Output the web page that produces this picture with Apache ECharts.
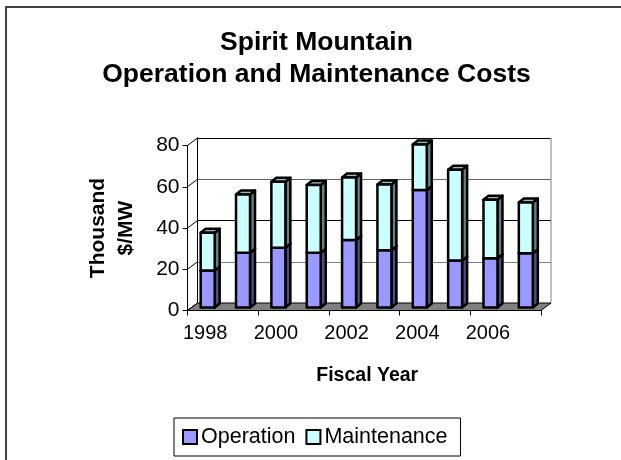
<!DOCTYPE html>
<html>
<head>
<meta charset="utf-8">
<style>html,body{margin:0;padding:0;background:#fff}#chart{width:621px;height:460px}</style>
<script src="https://cdn.jsdelivr.net/npm/echarts@6/dist/echarts.min.js"></script>
</head>
<body>
<div id="chart"></div>
<script>
var years = ['1998','1999','2000','2001','2002','2003','2004','2005','2006','2007'];
var operation = [18, 26.5, 29, 26.5, 32.7, 27.8, 57, 22.8, 23.9, 26.3];
var maintenance = [18.2, 28.3, 32, 32.9, 30.3, 31.8, 22, 44, 28.3, 24.6];
var yTicks = [0, 20, 40, 60, 80];

var font = '"Liberation Sans", Arial, sans-serif';
var depthX = 10, depthY = 7.5;   // 3d depth of the floor
var barW = 14, barDX = 5, barDY = 4;

// one 3d bar segment: front, side and top face
function barItem(colors) {
  return function (params, api) {
    var i = api.value(0);
    var p0 = api.coord([i, api.value(1)]);
    var p1 = api.coord([i, api.value(2)]);
    var x = p0[0] + 2.5 - barW / 2, w = barW;
    var yb = p0[1] - 3, yt = p1[1] - 3;
    var line = {stroke: '#000', lineWidth: 2.5, lineJoin: 'round'};
    return {
      type: 'group',
      children: [
        {type: 'polygon', shape: {points: [[x + w, yb], [x + w + barDX, yb - barDY], [x + w + barDX, yt - barDY], [x + w, yt]]},
          style: Object.assign({fill: colors[1]}, line)},
        {type: 'polygon', shape: {points: [[x, yt], [x + barDX, yt - barDY], [x + w + barDX, yt - barDY], [x + w, yt]]},
          style: Object.assign({fill: colors[2]}, line)},
        {type: 'rect', shape: {x: x, y: yt, width: w, height: yb - yt},
          style: Object.assign({fill: colors[0]}, line)}
      ]
    };
  };
}

// floor, right wall edge and the slanted lines at each tick
function floorItem(params, api) {
  if (params.dataIndex !== 0) return null;
  var cs = params.coordSys;
  var x0 = cs.x, x1 = cs.x + cs.width;
  var y0 = api.coord([0, 0])[1], yTop = api.coord([0, 80])[1];
  var kids = [
    {type: 'polygon', shape: {points: [[x0, y0], [x0 + depthX, y0 - depthY], [x1 + depthX, y0 - depthY], [x1, y0]]},
      style: {fill: '#808080', stroke: '#000', lineWidth: 1}},
    {type: 'line', shape: {x1: x1 + depthX, y1: y0 - depthY, x2: x1 + depthX, y2: yTop - depthY},
      style: {stroke: '#808080', lineWidth: 1}}
  ];
  yTicks.forEach(function (t) {
    var y = api.coord([0, t])[1];
    kids.push({type: 'line', shape: {x1: x0, y1: y, x2: x0 + depthX, y2: y - depthY}, style: {stroke: '#000', lineWidth: 1}});
  });
  return {type: 'group', children: kids};
}

var opData = years.map(function (y, i) { return [i, 0, operation[i]]; });
var mtData = years.map(function (y, i) { return [i, operation[i], operation[i] + maintenance[i]]; });

var chart = echarts.init(document.getElementById('chart'), null, {renderer: 'canvas'});
chart.setOption({
  animation: false,
  backgroundColor: '#fff',
  textStyle: {fontFamily: font, color: '#000'},
  title: {
    text: 'Spirit Mountain\nOperation and Maintenance Costs',
    left: 311.5, top: 22, textAlign: 'center',
    textStyle: {fontFamily: font, fontSize: 26.5, fontWeight: 'bold', lineHeight: 32, color: '#000'}
  },
  legend: {
    left: 174, top: 418, width: 300,
    padding: [8, 13, 8, 8],
    itemGap: 10, itemWidth: 14, itemHeight: 14,
    borderColor: '#000', borderWidth: 1,
    selectedMode: false,
    textStyle: {fontFamily: font, fontSize: 21.5, color: '#000', padding: [0, 0, 0, -1]},
    data: [
      {name: 'Operation', icon: 'rect', itemStyle: {color: '#9999ff', borderColor: '#000', borderWidth: 2}},
      {name: 'Maintenance', icon: 'rect', itemStyle: {color: '#ccffff', borderColor: '#000', borderWidth: 2}}
    ]
  },
  grid: [
    {left: 187.5, width: 353.5, top: 145.5, height: 165},
    {left: 197.5, width: 353.5, top: 138, height: 165}
  ],
  xAxis: [
    {
      type: 'category', gridIndex: 0, data: years,
      axisLine: {lineStyle: {color: '#000'}},
      axisTick: {show: true, alignWithLabel: false, length: 5, lineStyle: {color: '#000'}},
      axisLabel: {interval: 1, fontSize: 20, color: '#000', margin: 13, fontFamily: font},
      name: 'Fiscal Year', nameLocation: 'middle', nameGap: 55,
      nameTextStyle: {fontSize: 19.5, fontWeight: 'bold', color: '#000', fontFamily: font, padding: [0, 0, 0, 6]}
    },
    {type: 'category', gridIndex: 1, data: years, show: false}
  ],
  yAxis: [
    {
      type: 'value', gridIndex: 0, min: 0, max: 80, interval: 20,
      axisLine: {show: true, lineStyle: {color: '#000'}},
      axisTick: {show: true, length: 5, lineStyle: {color: '#000'}},
      axisLabel: {fontSize: 21, color: '#000', margin: 8, fontFamily: font, padding: [4, 0, 0, 0]},
      splitLine: {show: false},
      name: 'Thousand\n$/MW', nameLocation: 'middle', nameGap: 47, nameRotate: 90,
      nameTextStyle: {fontSize: 21, fontWeight: 'bold', lineHeight: 28, color: '#000', fontFamily: font}
    },
    {
      type: 'value', gridIndex: 1, min: 0, max: 80, interval: 20,
      axisLine: {show: true, lineStyle: {color: '#000'}},
      axisTick: {show: false},
      axisLabel: {show: false},
      splitLine: {show: true, lineStyle: {color: ['#808080', '#808080', '#000', '#666', '#000'], width: 1}}
    }
  ],
  series: [
    {name: 'floor', type: 'custom', xAxisIndex: 0, yAxisIndex: 0, z: 1, silent: true, clip: false, renderItem: floorItem, data: opData, encode: {x: 0, y: 2}},
    {name: 'Operation', type: 'custom', xAxisIndex: 0, yAxisIndex: 0, z: 3, clip: false, renderItem: barItem(['#9999ff', '#4d4d80', '#6b6bb3']), data: opData, encode: {x: 0, y: [1, 2]}},
    {name: 'Maintenance', type: 'custom', xAxisIndex: 0, yAxisIndex: 0, z: 3, clip: false, renderItem: barItem(['#ccffff', '#668080', '#99c0c0']), data: mtData, encode: {x: 0, y: [1, 2]}}
  ],
  graphic: [
    {type: 'rect', z: -1, shape: {x: 6, y: 7, width: 700, height: 700}, style: {fill: 'none', stroke: '#404040', lineWidth: 2}}
  ]
});
</script>
</body>
</html>
